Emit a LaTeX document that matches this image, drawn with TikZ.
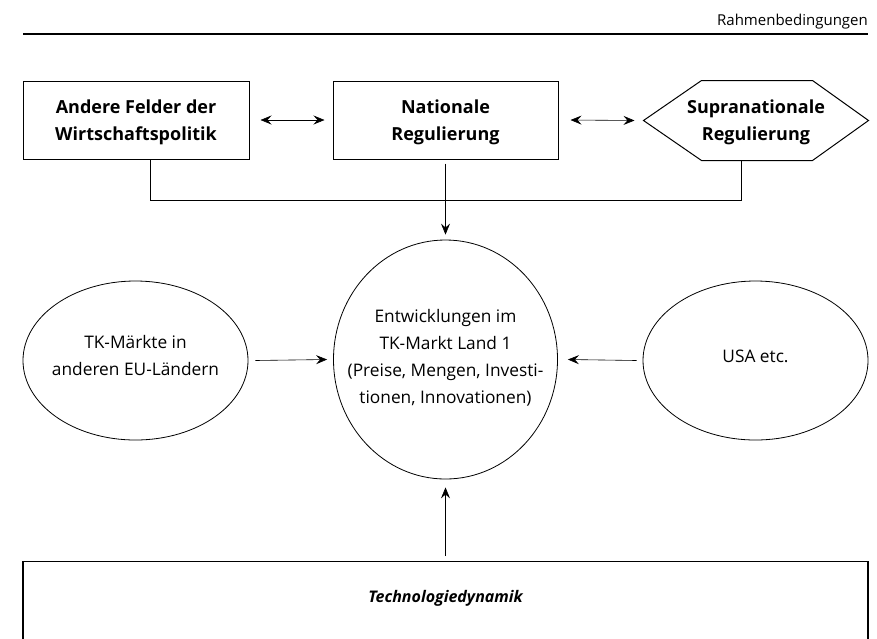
\documentclass[tikz,border=0pt]{standalone}
\usepackage{fontspec}
\setmainfont{Open Sans}
\usetikzlibrary{arrows.meta,shapes.geometric}
\begin{document}
\begin{tikzpicture}[x=1pt,y=-1pt,
  box/.style={draw,line width=1pt,minimum width=226pt,minimum height=78pt,inner sep=0pt,text depth=0pt,align=center,font=\fontsize{18}{27}\selectfont\bfseries},
  ell/.style={draw,ellipse,line width=0.8pt,inner sep=0pt},
  txt/.style={align=center,inner sep=0pt,font=\fontsize{17.3}{27}\selectfont},
  arr/.style={line width=0.6pt,-{Stealth[length=11pt,width=9pt,inset=4pt]}},
  dbl/.style={line width=0.6pt,{Stealth[length=11pt,width=9pt,inset=4pt]}-{Stealth[length=11pt,width=9pt,inset=4pt]}},
  link/.style={line width=1pt}]
\useasboundingbox (0,0) rectangle (877,638);
% header
\node[anchor=base east,inner sep=0pt,font=\fontsize{15}{16}\selectfont] (hdr) at (868,25) {Rahmenbedingungen};
\coordinate (hl) at (23,34);
\coordinate (hr) at (868,34);
\draw[line width=1.2pt] (hl) -- (hr);
% top row
\node[box] (b1) at (136,120) {Andere Felder der\\Wirtschaftspolitik};
\node[box,minimum width=225pt] (b2) at (445.5,120) {Nationale\\Regulierung};
\node[box,draw=none,minimum width=224pt,minimum height=79pt] (hx) at (756,120.5) {Supranationale\\Regulierung};
\draw[line width=1pt] (hx.west) -- ([xshift=58pt]hx.north west) -- ([xshift=-56pt]hx.north east) -- (hx.east) -- ([xshift=-56pt]hx.south east) -- ([xshift=58pt]hx.south west) -- cycle;
\draw[dbl] ([xshift=11pt]b1.east) -- ([xshift=-8pt]b2.west);
\draw[dbl] ([xshift=12pt]b2.east) -- ([xshift=-9pt]hx.west);
% middle
\node[ell,minimum width=224pt,minimum height=239pt] (ctr) at (445.5,359.5) {};
\node[txt] (ctrt) at (445.5,358) {Entwicklungen im\\TK-Markt Land 1\\(Preise, Mengen, Investi-\\tionen, Innovationen)};
\node[ell,minimum width=225pt,minimum height=159pt] (el1) at (135.5,360.5) {};
\node[txt] (el1t) at (135.5,356) {TK-Märkte in\\anderen EU-Ländern};
\node[ell,minimum width=225pt,minimum height=159pt] (el2) at (755.5,360.5) {};
\node[txt] (el2t) at (755.5,356) {USA etc.};
\draw[link] ([xshift=14pt]b1.south) -- ++(0,41) -| ([xshift=-15pt]hx.south);
\draw[arr] ([yshift=-4pt]b2.south) -- ([yshift=5pt]ctr.north);
\draw[arr] ([xshift=7pt]el1.east) -- ([xshift=-6pt]ctr.west);
\draw[arr] ([xshift=-6pt]el2.west) -- ([xshift=10pt]ctr.east);
% bottom
\node[draw,line width=1.2pt,minimum width=845pt,minimum height=160pt,anchor=north,inner sep=0pt] (tb) at (445.5,561) {};
\node[inner sep=0pt,font=\fontsize{16}{18}\selectfont\bfseries\itshape] (tbt) at (445.5,598) {Technologiedynamik};
\draw[arr] ([yshift=5pt]tb.north) -- ([yshift=-8pt]ctr.south);
\end{tikzpicture}
\end{document}
